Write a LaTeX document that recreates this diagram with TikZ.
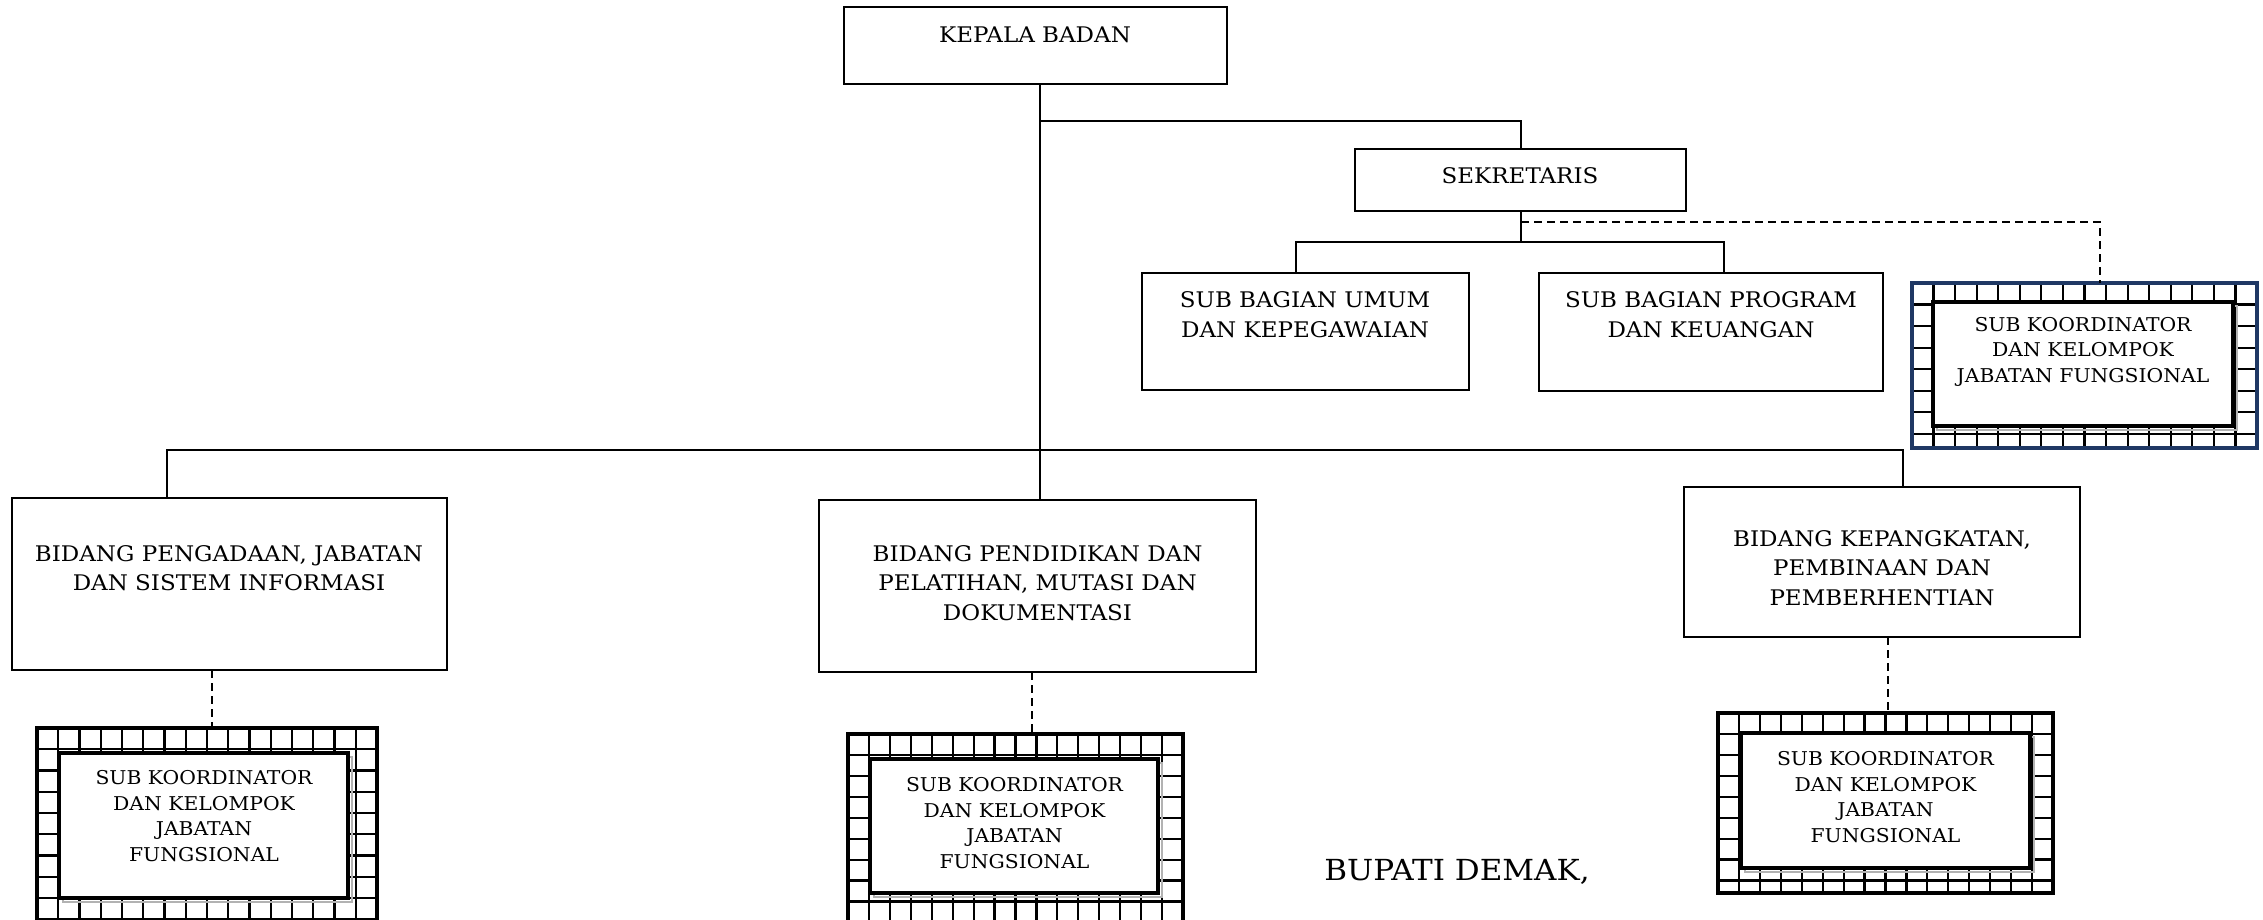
\documentclass[tikz,border=0pt]{standalone}
\usepackage{fontspec}
\setmainfont{DejaVu Serif}[FakeStretch=1.07]
\definecolor{navy}{HTML}{1F3864}
\newcommand\mygridbox[9]{%
  \node[fill=white, inner sep=0pt, outer sep=0pt, minimum width={#4-#2}, minimum height={#5-#3}] (#1) at ({(#2+#4)/2},{(#3+#5)/2}) {};
  \begin{scope}
    \clip (#2,#3) rectangle (#4,#5);
    \pgfmathsetmacro\gs{(#4-#2)/16}
    \foreach \i in {1,...,15} \draw[gridline] ({#2+\i*\gs},#3) -- ({#2+\i*\gs},#5);
    \foreach \j in {1,...,10} \draw[gridline] (#2,{#3+\j*\gs}) -- (#4,{#3+\j*\gs});
  \end{scope}
  \draw[gray!60, line width=1.5pt] ({#6+4},{#7+4}) rectangle ({#8+4},{#9+4});
  \node[draw, fill=white, line width=3.6pt, inner sep=0pt, outer sep=0pt, minimum width={#8-#6}, minimum height={#9-#7}] (#1i) at ({(#6+#8)/2},{(#7+#9)/2}) {};
}
\begin{document}
\begin{tikzpicture}[x=1pt,y=-1pt,
  box/.style={draw, line width=2.6pt, inner sep=0pt, outer sep=0pt},
  txt/.style={align=center, inner sep=0pt, font=\fontsize{21.5}{29.5}\selectfont},
  smalltxt/.style={align=center, inner sep=0pt, font=\fontsize{19}{25.5}\selectfont},
  conn/.style={line width=2.4pt},
  thinconn/.style={line width=1.8pt},
  dconn/.style={line width=2.4pt, dash pattern=on 8pt off 5pt},
  gridline/.style={line width=2.2pt},
  outerb/.style={line width=3.8pt}]
\useasboundingbox (0,0) rectangle (2263,919);

% main boxes
\node[box, minimum width=383, minimum height=77] (kepala) at (1035.5,45.5) {};
\node[txt] (kepalaT) at (1035,34.5) {KEPALA BADAN};

\node[box, minimum width=331, minimum height=62] (sek) at (1520.5,180) {};
\node[txt] (sekT) at (1520,175.5) {SEKRETARIS};

\node[box, minimum width=327, minimum height=117] (umum) at (1305.5,331.5) {};
\node[txt] (umumT) at (1305,314.5) {SUB BAGIAN UMUM\\DAN KEPEGAWAIAN};

\node[box, minimum width=344, minimum height=118] (program) at (1711,332) {};
\node[txt] (programT) at (1711,314.5) {SUB BAGIAN PROGRAM\\DAN KEUANGAN};

\node[box, minimum width=435, minimum height=172] (bid1) at (229.5,584) {};
\node[txt] (bid1T) at (229,568) {BIDANG PENGADAAN, JABATAN\\DAN SISTEM INFORMASI};

\node[box, minimum width=437, minimum height=172] (bid2) at (1037.5,586) {};
\node[txt] (bid2T) at (1037.5,583) {BIDANG PENDIDIKAN DAN\\PELATIHAN, MUTASI DAN\\DOKUMENTASI};

\node[box, minimum width=396, minimum height=150] (bid3) at (1882,562) {};
\node[txt] (bid3T) at (1882,568) {BIDANG KEPANGKATAN,\\PEMBINAAN DAN\\PEMBERHENTIAN};

% grid boxes
\mygridbox{g0}{1912}{283}{2257}{448}{1933}{302}{2233}{426}
\draw[outerb, navy] (g0.north west) rectangle (g0.south east);
\node[smalltxt] (g0T) at (2083,351.5) {SUB KOORDINATOR\\DAN KELOMPOK\\JABATAN FUNGSIONAL};

\mygridbox{g1}{37}{728}{377}{935}{59}{753}{348}{898}
\draw[outerb] (g1.north west) rectangle (g1.south east);
\node[smalltxt] (g1T) at (204,816) {SUB KOORDINATOR\\DAN KELOMPOK\\JABATAN\\FUNGSIONAL};

\mygridbox{g2}{848}{734}{1183}{935}{870}{759}{1158}{893}
\draw[outerb] (g2.north west) rectangle (g2.south east);
\node[smalltxt] (g2T) at (1014.5,823) {SUB KOORDINATOR\\DAN KELOMPOK\\JABATAN\\FUNGSIONAL};

\mygridbox{g3}{1718}{713}{2053}{893}{1741}{733}{2030}{868}
\draw[outerb] (g3.north west) rectangle (g3.south east);
\node[smalltxt] (g3T) at (1885.5,797) {SUB KOORDINATOR\\DAN KELOMPOK\\JABATAN\\FUNGSIONAL};

\node[inner sep=0pt, font=\fontsize{29}{34}\selectfont] (bupati) at (1457,872) {BUPATI DEMAK,};

% connectors
\coordinate (spineTop) at (1040,121);
\coordinate (spineMid) at (1040,450);
\coordinate (sekX) at (1521,121);
\draw[conn] (kepala.south -| spineTop) -- (spineTop) -- (spineMid) -- (bid2.north -| spineMid);
\draw[conn] (spineTop) -- (sekX) -- (sek.north -| sekX);

\coordinate (sekJ) at (1521,242);
\coordinate (uJ) at (1296,242);
\coordinate (pJ) at (1724,242);
\draw[thinconn] (sek.south -| sekJ) -- (sekJ);
\draw[thinconn] (umum.north -| uJ) -- (uJ) -- (pJ) -- (program.north -| pJ);

\coordinate (dJ) at (1521,222);
\coordinate (dK) at (2100,222);
\draw[dconn] (dJ) -- (dK) -- (g0.north -| dK);

\coordinate (L) at (167,450);
\coordinate (R) at (1903,450);
\draw[conn] (bid1.north -| L) -- (L) -- (R) -- (bid3.north -| R);

\coordinate (x1) at (212,0);
\coordinate (x2) at (1032,0);
\coordinate (x3) at (1888,0);
\draw[dconn] (bid1.south -| x1) -- (g1.north -| x1);
\draw[dconn] (bid2.south -| x2) -- (g2.north -| x2);
\draw[dconn] (bid3.south -| x3) -- (g3.north -| x3);
\end{tikzpicture}
\end{document}
